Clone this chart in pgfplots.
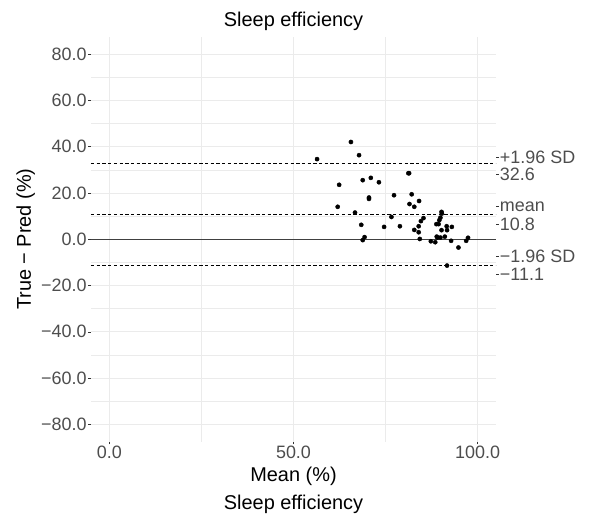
\documentclass[border=0pt]{standalone}
\usepackage{fontspec}
\setmainfont{Liberation Sans}
\usepackage{pgfplots}
\pgfplotsset{compat=1.18}

\definecolor{gridgrey}{HTML}{EBEBEB}
\definecolor{ticktext}{HTML}{4D4D4D}
\definecolor{tickmark}{HTML}{333333}

% Bland-Altman points: mean of true and predicted, difference true - pred
\pgfplotstableread{
x y
56.4 34.6
65.6 42.0
67.8 36.3
62.4 23.5
68.8 25.5
71.0 26.5
73.2 24.6
70.5 18.0
70.5 17.4
62.0 14.0
66.7 11.5
68.4 6.2
69.3 0.9
68.8 -0.4
77.3 19.0
76.6 9.6
74.6 5.3
78.9 5.6
81.2 28.5
81.4 28.5
82.1 19.4
81.5 15.2
82.8 14.0
84.1 16.5
85.3 9.1
84.6 7.8
84.0 5.6
82.8 4.0
84.0 3.0
84.3 0.1
87.3 -0.9
88.5 -1.3
89.1 0.7
89.9 0.7
91.1 1.1
92.8 -0.7
94.8 -3.6
96.9 -0.7
97.4 0.6
91.7 -11.4
90.2 11.8
90.3 11.1
89.9 9.3
89.6 8.2
89.4 6.5
88.8 6.5
90.2 3.9
91.6 5.6
91.7 3.9
93.0 5.3
88.9 1.1
}\badata

\pgfplotsset{
  panel/.style={
    at={(0,0)}, anchor=south west,
    scale only axis, width=405bp, height=405bp,
    xmin=-5, xmax=105, ymin=-87.5, ymax=87.5,
    axis line style={draw=none},
    tick align=outside, major tick length=2.75bp, minor tick length=0pt,
    tick style={tickmark, line width=0.5bp},
    ticklabel style={font=\fontsize{18}{20}\selectfont, text=ticktext, inner sep=0pt},
  }
}

\begin{document}
\begin{tikzpicture}[x=1bp,y=1bp]
\begin{axis}[
  panel,
  tick pos=left,
  xtick={0,50,100}, xticklabels={0.0,50.0,100.0},
  ytick={-80,-60,-40,-20,0,20,40,60,80},
  yticklabels={−80.0,−60.0,−40.0,−20.0,0.0,20.0,40.0,60.0,80.0},
  minor xtick={25,75}, minor ytick={-70,-50,-30,-10,10,30,50,70},
  grid=both,
  major grid style={gridgrey, line width=0.8bp},
  minor grid style={gridgrey, line width=0.5bp},
  xticklabel style={anchor=north, yshift=-1.5bp},
  yticklabel style={anchor=east, xshift=-1.5bp},
]
  \addplot[black!75, line width=0.8bp] coordinates {(-5,0) (105,0)};
  \addplot[black, line width=0.7bp, dash pattern=on 3.3bp off 2.4bp] coordinates {(-5,32.6) (105,32.6)};
  \addplot[black, line width=0.7bp, dash pattern=on 3.3bp off 2.4bp] coordinates {(-5,10.8) (105,10.8)};
  \addplot[black, line width=0.7bp, dash pattern=on 3.3bp off 2.4bp] coordinates {(-5,-11.1) (105,-11.1)};
  \addplot[only marks, mark=*, mark size=2.1bp, black] table[x=x, y=y] {\badata};
\end{axis}
% limits of agreement, labelled on the right-hand side
\begin{axis}[
  panel,
  hide x axis,
  axis y line*=right,
  ytick={35.2,28.1,14.1,6.5,-7.2,-15.1},
  yticklabels={+1.96 SD,32.6,mean,10.8,−1.96 SD,−11.1},
  yticklabel style={anchor=west, xshift=1bp},
]
  \addplot[draw=none] coordinates {(0,0)};
\end{axis}
\node[anchor=base, font=\fontsize{20}{24}\selectfont] at (202.5,415) {Sleep efficiency};
\node[anchor=base, font=\fontsize{20}{24}\selectfont] at (202.5,-39.8) {Mean (\%)};
\node[anchor=base, font=\fontsize{20}{24}\selectfont] at (202.5,-68.3) {Sleep efficiency};
\node[anchor=base, rotate=90, font=\fontsize{20}{24}\selectfont] at (-60,202.5) {True − Pred (\%)};
\pgfresetboundingbox
\path (-91,-77.3) rectangle (499,441.7);
\end{tikzpicture}
\end{document}
